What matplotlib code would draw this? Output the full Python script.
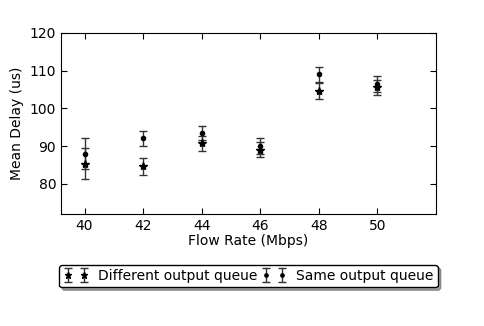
import matplotlib
matplotlib.use("Agg")
import matplotlib.pyplot as plt
import numpy as np

rates = [40, 42, 44, 46, 48, 50]

diff_mean = [85.3, 84.6, 90.7, 89.0, 104.6, 105.6]
diff_err = [4.1, 2.2, 2.0, 2.0, 2.0, 2.0]

same_mean = [88.0, 92.0, 93.4, 90.0, 109.0, 106.4]
same_err = [4.1, 1.9, 1.8, 2.0, 1.9, 2.1]

plt.rcParams['font.family'] = 'DejaVu Sans'

fig = plt.figure(figsize=(4.85, 3.26), dpi=100)
ax = fig.add_axes([0.126, 0.344, 0.773, 0.555])

ax.errorbar(rates, diff_mean, yerr=diff_err, fmt='k*', ecolor='#333333',
            elinewidth=1.0, capsize=3, capthick=1.0, markersize=6,
            label='Different output queue')
ax.errorbar(rates, same_mean, yerr=same_err, fmt='k.', ecolor='#333333',
            elinewidth=1.0, capsize=3, capthick=1.0, markersize=6,
            label='Same output queue')

ax.set_xlim(39.2, 52)
ax.set_ylim(72, 120)
ax.set_xticks([40, 42, 44, 46, 48, 50])
ax.set_yticks([80, 90, 100, 110, 120])
ax.tick_params(direction='in', top=True, right=True, labelsize=10, length=4)
ax.set_xlabel('Flow Rate (Mbps)', fontsize=10, labelpad=1)
ax.set_ylabel('Mean Delay (us)', fontsize=10)

leg = ax.legend(loc='upper center', bbox_to_anchor=(0.5, -0.245), ncol=2,
                numpoints=2, fontsize=10, shadow=True, fancybox=True,
                handlelength=1.8, columnspacing=0.3, handletextpad=0.7,
                borderpad=0.3, framealpha=1, markerscale=0.8)
leg.get_frame().set_edgecolor('black')

fig.savefig('out.png', dpi=100)
